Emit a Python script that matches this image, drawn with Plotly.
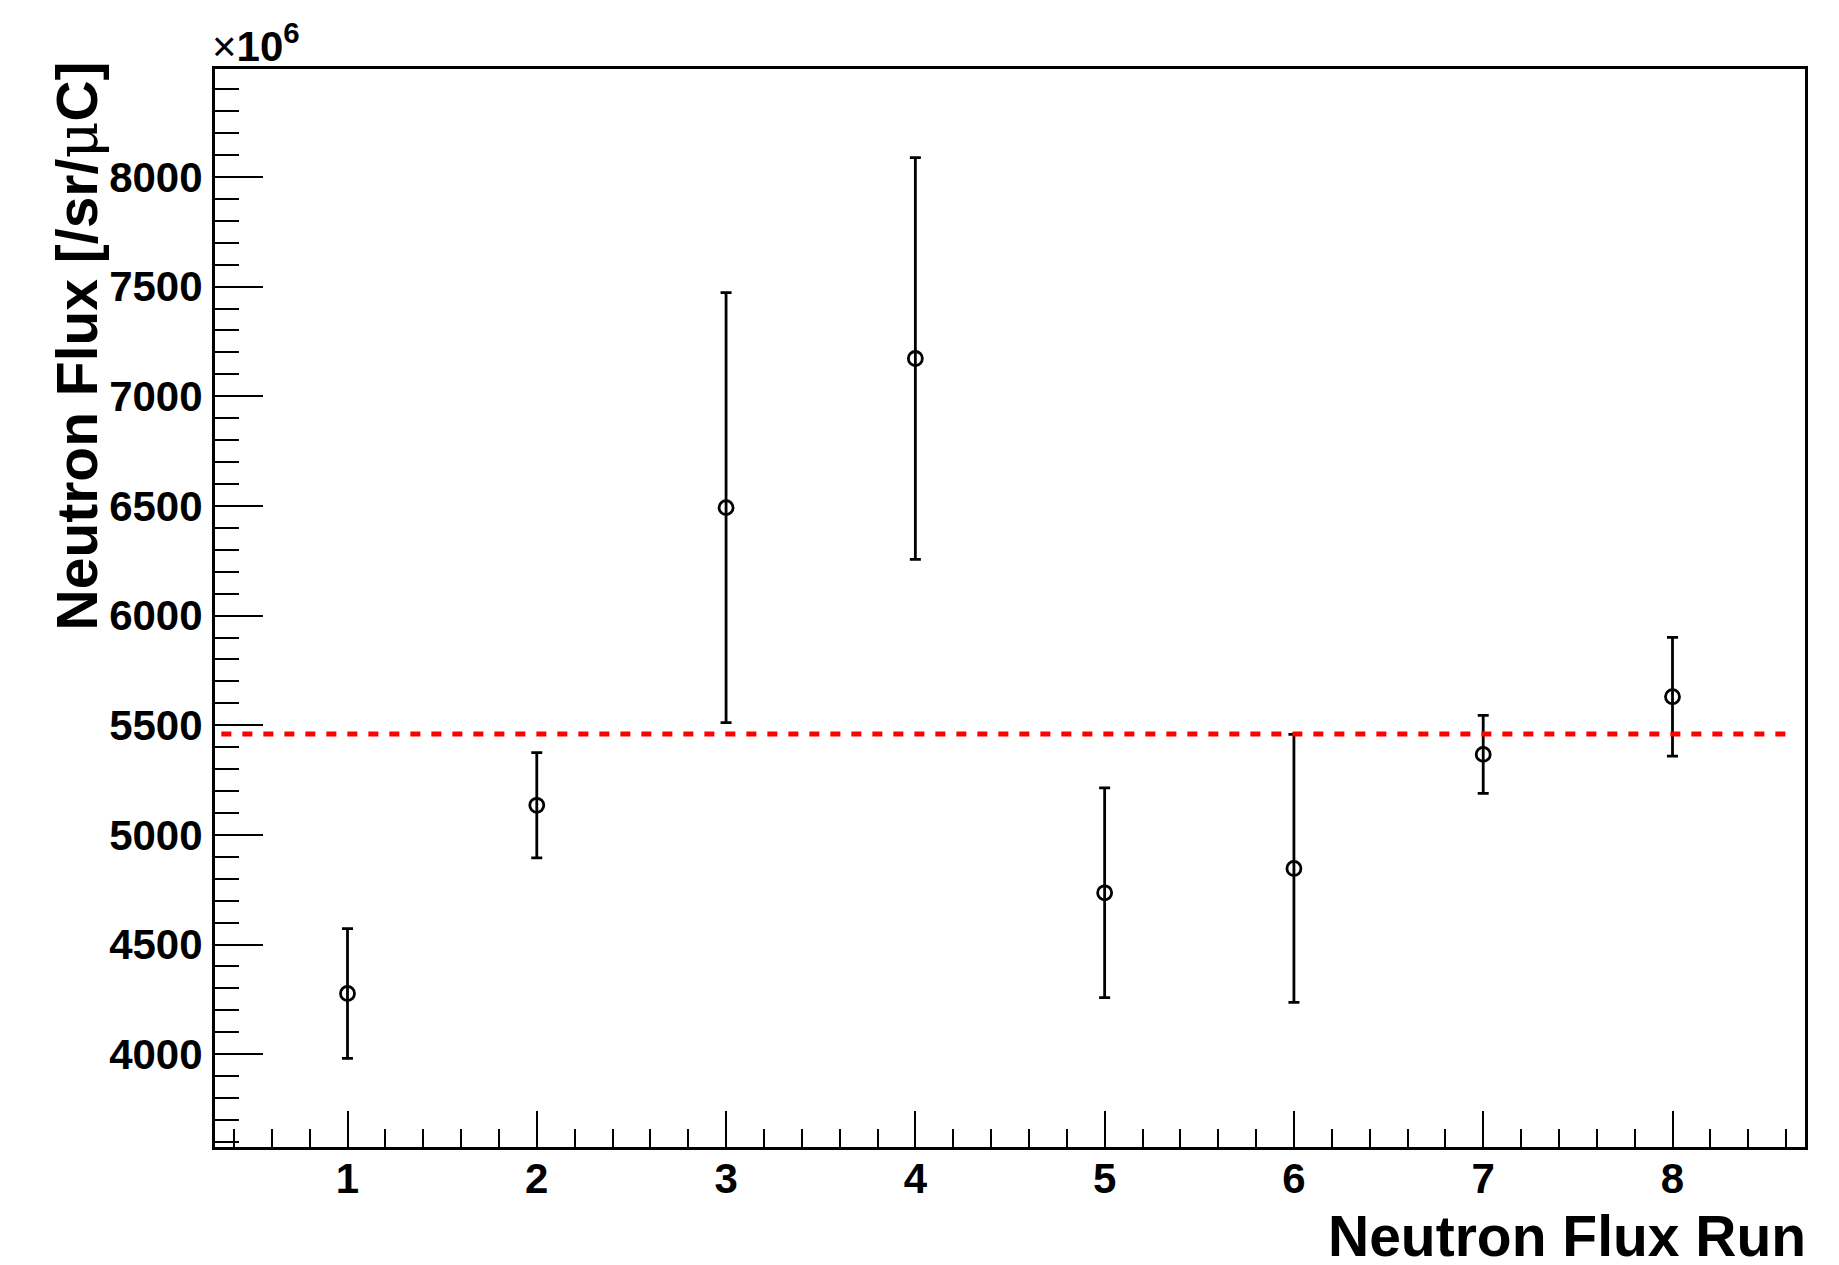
import plotly.graph_objects as go

# ---- data (values in units of 10^6 /sr/uC) ----
RUNS = [1, 2, 3, 4, 5, 6, 7, 8]
FLUX = [4277, 5135, 6492, 7172, 4736, 4847, 5367, 5630]
FLUX_ERR = [296, 240, 980, 916, 478, 611, 178, 271]
MEAN_FLUX = 5460

X_RANGE = [0.3, 8.7]
Y_RANGE = [3577, 8492]

W, H = 1839, 1265
ML, MR, MT, MB = 214.5, 33.5, 68.5, 118.2

FONT = "Liberation Sans, Arial, Helvetica, sans-serif"

fig = go.Figure()
fig.add_trace(go.Scatter(
    x=RUNS, y=FLUX, mode="markers",
    marker=dict(symbol="circle-open", size=14, color="black",
                line=dict(width=2.8, color="black")),
    error_y=dict(type="data", array=FLUX_ERR, visible=True, color="black",
                 thickness=2.8, width=5.5),
    showlegend=False, hoverinfo="x+y",
))

fig.add_shape(type="line", xref="paper", yref="y", x0=0.004, x1=0.994,
              y0=MEAN_FLUX, y1=MEAN_FLUX,
              line=dict(color="#ff0000", width=5, dash="10px,11px"))

axis_common = dict(
    showline=True, linewidth=3, linecolor="black", mirror=True,
    showgrid=False, zeroline=False, ticks="inside", tickwidth=2,
    tickcolor="black", tickfont=dict(size=42, family=FONT, weight="bold", color="black"),
)

fig.update_xaxes(
    range=X_RANGE, tickmode="linear", tick0=0, dtick=1, ticklen=36,
    minor=dict(tickmode="linear", tick0=0, dtick=0.2, ticks="inside", ticklen=18,
               tickwidth=2, tickcolor="black", showgrid=False),
    ticklabelstandoff=-7,
    **axis_common,
)
fig.update_yaxes(
    range=Y_RANGE, tickmode="linear", tick0=0, dtick=500, ticklen=48,
    minor=dict(tickmode="linear", tick0=0, dtick=100, ticks="inside", ticklen=24,
               tickwidth=2, tickcolor="black", showgrid=False),
    ticklabelstandoff=1,
    **axis_common,
)

fig.add_annotation(
    text='Neutron Flux [/sr/<span style="font-family:DejaVu Serif;font-weight:normal">μ</span>C]',
    textangle=-90, xref="paper", yref="paper", x=-0.0865, y=1.0088,
    xanchor="center", yanchor="top", showarrow=False,
    font=dict(size=57, family=FONT, weight="bold", color="black"),
)
fig.add_annotation(
    text="Neutron Flux Run", xref="paper", yref="paper", x=1.0, y=-0.0825,
    xanchor="right", yanchor="middle", xshift=3, showarrow=False,
    font=dict(size=57, family=FONT, weight="bold", color="black"),
)
fig.add_annotation(
    text='<span style="font-weight:normal">×</span>10<sup>6</sup>',
    xref="paper", yref="paper", x=0.0, y=1.0, xanchor="left", yanchor="bottom",
    xshift=-5, yshift=-3, showarrow=False,
    font=dict(size=42, family=FONT, weight="bold", color="black"),
)

fig.update_layout(
    width=W, height=H, autosize=False,
    margin=dict(l=ML, r=MR, t=MT, b=MB, pad=0),
    paper_bgcolor="white", plot_bgcolor="white",
    font=dict(family=FONT, color="black", weight="bold"),
    showlegend=False,
)

fig.write_html("out.html")
